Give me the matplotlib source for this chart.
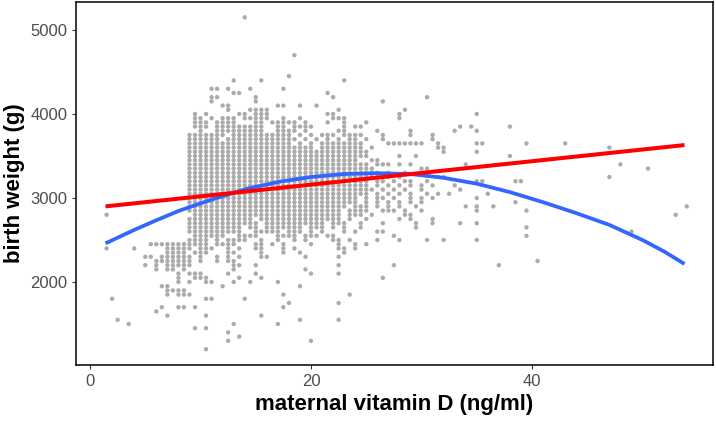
import matplotlib
matplotlib.use("Agg")
import matplotlib.pyplot as plt

# ---- scatter data ----
# each row: one birth-weight level (g) and the vitamin D positions of the points
# in that row, written as half-unit indices (index 18 = 9 ng/ml); "a-b" = a run of points
weight_rows = [5150, 4700, 4450, 4400, 4300, 4250, 4200, 4150, 4100, 4050,
               4000, 3950, 3900, 3850, 3800, 3750, 3700, 3650, 3600, 3550,
               3500, 3450, 3400, 3350, 3300, 3250, 3200, 3150, 3100, 3050,
               3000, 2950, 2900, 2850, 2800, 2750, 2700, 2650, 2600, 2550,
               2500, 2450, 2400, 2350, 2300, 2250, 2200, 2150, 2100, 2050,
               2000, 1950, 1900, 1850, 1800, 1750, 1700, 1650, 1600, 1550,
               1500, 1450, 1400, 1350, 1300, 1200]
vitd_rows = [
    "28", "37", "36", "26,31,46", "22,23,25,29,35", "26,27,43", "22,23,30,44,61",
    "22,30,53", "24,25,34,35,38,41", "25,29-32,45,57",
    "19,21,27,28,30-32,43,44,56,70",
    "19,20,22,24-26,28-32,35,38,44-46,56",
    "19-21,23-26,30,31,33-37,39,43,46,50",
    "19-21,23-31,34,35,37-40,46,48,49,67,69,76",
    "20,23-31,34-37,39,45,46,52,58,66,70",
    "18-24,26-36,38,40,42-44,46-49,53,58,62",
    "18-23,25-37,39,41,43,45,47,48,50,53,62",
    "18-36,38,40,42-49,54-60,63,70,71,79,86",
    "18-40,42-49,51,63,64,94",
    "18-50,64,70",
    "18-50,56,59,76",
    "18-48,51,52",
    "18-50,52-54,56,58,68,96",
    "18-51,60,61,101",
    "18-52,54,57",
    "18-52,54,56,63,64,94",
    "18-50,52,53,55,57,58,61,70,71,77,78",
    "18-50,52,54,56,58,60,62,66",
    "18-50,51,53,55,57,60,67",
    "18-50,52,54,56,58,61,63,65,72",
    "18-48,50,52,53,55,58,60,62,70",
    "18-48,50,52,54,56,58,60,77",
    "18-46,48-50,52,54,56,59,68,70,73,108",
    "18-45,47-50,53-55,57,60,70,79",
    "3,19-45,47-49,51,57,58,106",
    "18-29,31-45,47,50,56,58,62",
    "18-30,32-42,44-46,49,53,59,62,67,70",
    "18-27,29,30,32-38,40-42,44,46,49,59,79",
    "18-27,30-34,36-38,40,42,46,48,52,53,98",
    "19-24,27-30,34-37,39-41,43,44,55,79",
    "18-21,23,25-28,31,34,37,39,44,45,47,52,56,61,64,70",
    "11-21,23-26,30,31,33,35,40,45,48,50",
    "3,8,14-18,20-22,25,27,30,31,35,37,45,46,48",
    "14-17,19-21,25,26,31,35,38,46",
    "10,11,13-18,20,23,25,27,31,32,39,45",
    "12-18,20,23,25,26,81",
    "10,12,14-18,26,27,30,45,55,74",
    "12,14,15,17,26,39",
    "16,18-20,25,30,40,45",
    "16,19-21,27,31,53",
    "16,18,21,22,26,29,34",
    "13,14,24,38",
    "14-17",
    "14,16-18,35,47",
    "4,21,22,28",
    "36,45",
    "13,16,17,19,35",
    "12",
    "14,21,31",
    "5,38,45",
    "7,26,34",
    "19,21",
    "25",
    "27",
    "25,40",
    "21",
]

# ---- fitted lines ----
blue_x = [1.4, 4.0, 6.0, 8.1, 11.1, 14.2, 17.2, 20.0, 23.0, 26.0, 29.0,
          32.0, 35.0, 38.0, 41.0, 44.0, 47.0, 50.0, 52.0, 53.8]
blue_y = [2460, 2620, 2735, 2850, 2985, 3110, 3195, 3250, 3285, 3295, 3285,
          3240, 3170, 3070, 2950, 2820, 2680, 2500, 2360, 2215]
red_x = [1.4, 53.8]
red_y = [2900, 3630]

x_ticks = [0, 20, 40]
y_ticks = [2000, 3000, 4000, 5000]

# ---- expand rows ----
xs, ys = [], []
for w, spec in zip(weight_rows, vitd_rows):
    for part in spec.split(","):
        if "-" in part:
            a, b = part.split("-")
            idx = list(range(int(a), int(b) + 1))
        else:
            idx = [int(part)]
        for c in idx:
            xs.append(c * 0.5)
            ys.append(w)

plt.rcParams["font.family"] = ["Liberation Sans", "DejaVu Sans"]

fig = plt.figure(figsize=(7.16, 4.21), dpi=100)
ax = fig.add_axes([76 / 716, 56 / 421, 637 / 716, 363 / 421])

ax.scatter(xs, ys, s=10, color="#ABABAB", edgecolors="none", zorder=2)
ax.plot(blue_x, blue_y, color="#3366FF", lw=2.7, solid_capstyle="butt", zorder=3)
ax.plot(red_x, red_y, color="#FF0000", lw=2.9, solid_capstyle="butt", zorder=4)

ax.set_xlim(-1.27, 56.38)
ax.set_ylim(1012, 5333)
ax.set_xticks(x_ticks)
ax.set_yticks(y_ticks)
ax.tick_params(axis="both", length=2.7, width=0.8, color="#333333",
               labelcolor="#4D4D4D", labelsize=12, pad=3.5)
for sp in ax.spines.values():
    sp.set_linewidth(1.1)
    sp.set_color("black")

ax.set_xlabel("maternal vitamin D (ng/ml)", fontsize=16, fontweight="bold", labelpad=4)
ax.set_ylabel("birth weight (g)", fontsize=16, fontweight="bold", labelpad=4)

fig.savefig("out.png", dpi=100)
